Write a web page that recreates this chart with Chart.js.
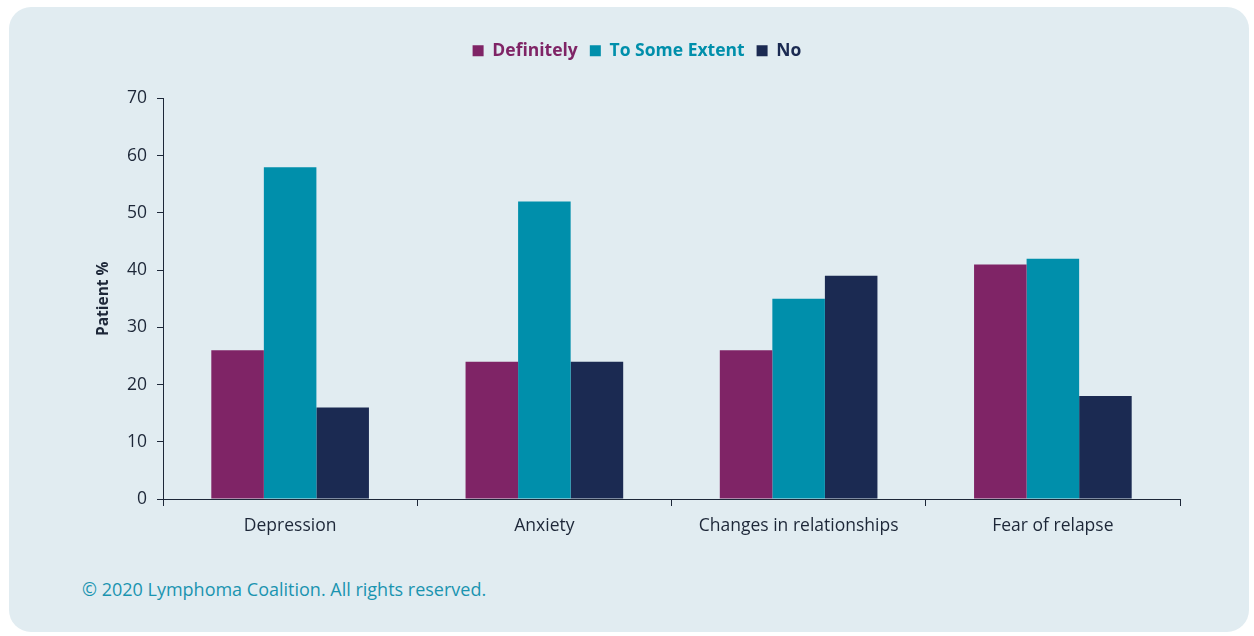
<!DOCTYPE html>
<html>
<head>
<meta charset="utf-8">
<script src="https://cdn.jsdelivr.net/npm/chart.js@4.4.1/dist/chart.umd.min.js"></script>
<style>
    html, body { margin: 0; padding: 0; background: #ffffff; }
    body { width: 1254px; height: 636px; position: relative; overflow: hidden; font-family: 'Open Sans', 'Noto Sans', sans-serif; }
    .panel {
        position: absolute; left: 9px; top: 7px; width: 1240px; height: 625px;
        background: #e1ecf1; border-radius: 22px;
    }
    .chart-box { position: absolute; left: 0; top: 0; width: 1240px; height: 535px; }
    .copyright {
        position: absolute; left: 73px; top: 570px;
        color: #1a94b0; font-size: 18px; font-family: 'Open Sans', 'Noto Sans', sans-serif;
    }
</style>
</head>
<body>
<div class="panel">
    <div class="chart-box"><canvas id="surveyChart"></canvas></div>
    <div class="copyright">© 2020 Lymphoma Coalition. All rights reserved.</div>
</div>
<script>
// ========== DATA ==========
const categories = ['Depression', 'Anxiety', 'Changes in relationships', 'Fear of relapse'];
const definitely = [26, 24, 26, 41];
const toSomeExtent = [58, 52, 35, 42];
const noAnswer = [16, 24, 39, 18];
const seriesNames = ['Definitely', 'To Some Extent', 'No'];
const seriesColors = ['#7f2466', '#008fab', '#1b2a52'];

const axisColor = '#1d2738';
const textColor = '#1d2738';
const fontFamily = "'Open Sans', 'Noto Sans', sans-serif";

// push the plot area down below the legend
const legendSpacer = {
    id: 'legendSpacer',
    beforeInit(chart) {
        const origFit = chart.legend.fit;
        chart.legend.fit = function () {
            origFit.bind(chart.legend)();
            this.height += 29;
        };
    }
};

const ctx = document.getElementById('surveyChart').getContext('2d');
new Chart(ctx, {
    type: 'bar',
    data: {
        labels: categories,
        datasets: [definitely, toSomeExtent, noAnswer].map((vals, i) => ({
            label: seriesNames[i],
            data: vals,
            backgroundColor: seriesColors[i],
            borderWidth: 0,
            categoryPercentage: 0.62,
            barPercentage: 1.0
        }))
    },
    options: {
        responsive: true,
        maintainAspectRatio: false,
        animation: false,
        layout: { padding: { top: 23, right: 69, left: 85, bottom: 0 } },
        plugins: {
            tooltip: { enabled: false },
            legend: {
                position: 'top',
                labels: {
                    boxWidth: 11,
                    boxHeight: 11,
                    padding: 12,
                    font: { family: fontFamily, size: 17.5, weight: 'bold' },
                    generateLabels(chart) {
                        return chart.data.datasets.map((ds, i) => ({
                            text: ds.label,
                            fillStyle: ds.backgroundColor,
                            strokeStyle: ds.backgroundColor,
                            lineWidth: 0,
                            fontColor: ds.backgroundColor,
                            datasetIndex: i,
                            hidden: false
                        }));
                    }
                }
            }
        },
        scales: {
            x: {
                grid: { display: true, drawOnChartArea: false, offset: true, tickLength: 7, color: axisColor },
                border: { color: axisColor, width: 1 },
                ticks: { color: textColor, font: { family: fontFamily, size: 17.5 }, padding: 10 },
                afterFit(scale) { scale.height = 43; }
            },
            y: {
                min: 0,
                max: 70,
                ticks: { stepSize: 10, color: textColor, padding: 10, font: { family: fontFamily, size: 17.5 } },
                grid: { display: true, drawOnChartArea: false, tickLength: 6, color: axisColor },
                border: { color: axisColor, width: 1 },
                title: {
                    display: true,
                    text: 'Patient %',
                    color: textColor,
                    font: { family: fontFamily, size: 15.5, weight: 'bold' },
                    padding: { top: 0, bottom: 0 }
                },
                afterFit(scale) { scale.width = 69; }
            }
        }
    },
    plugins: [legendSpacer]
});
</script>
</body>
</html>
